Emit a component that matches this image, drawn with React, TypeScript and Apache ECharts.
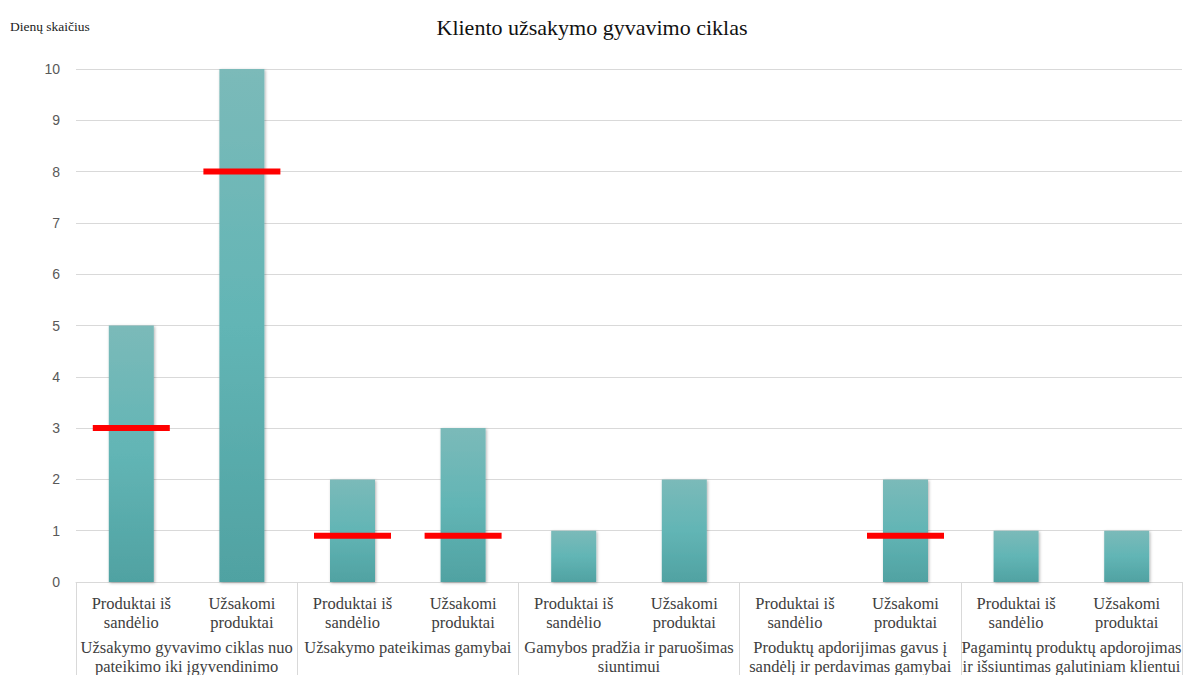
import React, { useEffect, useRef } from "react";
import * as echarts from "echarts";

const subCategories = [
  "Produktai iš\nsandėlio", "Užsakomi\nproduktai",
  "Produktai iš\nsandėlio", "Užsakomi\nproduktai",
  "Produktai iš\nsandėlio", "Užsakomi\nproduktai",
  "Produktai iš\nsandėlio", "Užsakomi\nproduktai",
  "Produktai iš\nsandėlio", "Užsakomi\nproduktai",
];
const groupCategories = [
  "Užsakymo gyvavimo ciklas nuo\npateikimo iki įgyvendinimo",
  "Užsakymo pateikimas gamybai",
  "Gamybos pradžia ir paruošimas\nsiuntimui",
  "Produktų apdorijimas gavus į\nsandėlį ir perdavimas gamybai",
  "Pagamintų produktų apdorojimas\nir išsiuntimas galutiniam klientui",
];
const dayValues = [5, 10, 2, 3, 1, 2, 0, 2, 1, 1];
const targetValues: (number | null)[] = [3, 8, 0.9, 0.9, null, null, null, 0.9, null, null];
const yTicks = { min: 0, max: 10, interval: 1 };

const serif = "'Liberation Serif', 'DejaVu Serif', serif";
const sans = "'Liberation Sans', Arial, sans-serif";

export default function App() {
  const ref = useRef<HTMLDivElement>(null);
  useEffect(() => {
    document.body.style.margin = "0";
    const chart = echarts.init(ref.current!, null, { renderer: "svg" });
    chart.setOption({
      animation: false,
      backgroundColor: "#ffffff",
      title: {
        text: "Kliento užsakymo gyvavimo ciklas",
        left: "center",
        top: 11,
        textStyle: { fontFamily: serif, fontSize: 22, fontWeight: "normal", color: "#111" },
      },
      graphic: [
        {
          type: "text",
          left: 10,
          top: 19,
          style: { text: "Dienų skaičius", fontFamily: serif, fontSize: 13.5, fill: "#222" },
        },
      ],
      grid: { left: 76, right: 2, top: 69, bottom: 93, outerBoundsMode: "none", containLabel: false },
      xAxis: [
        {
          type: "category",
          data: subCategories,
          position: "bottom",
          axisLine: { show: true, lineStyle: { color: "#d9d9d9" } },
          axisTick: { show: false },
          axisLabel: {
            interval: 0,
            margin: 12,
            fontFamily: serif,
            fontSize: 16.5,
            lineHeight: 19,
            color: "#404040",
          },
        },
        {
          type: "category",
          data: groupCategories,
          position: "bottom",
          axisLine: { show: false },
          axisTick: { show: true, length: 110, lineStyle: { color: "#d9d9d9" } },
          axisLabel: {
            interval: 0,
            margin: 56,
            fontFamily: serif,
            fontSize: 16.5,
            lineHeight: 19,
            color: "#404040",
          },
        },
      ],
      yAxis: {
        type: "value",
        min: yTicks.min,
        max: yTicks.max,
        interval: yTicks.interval,
        axisLine: { show: false },
        axisTick: { show: false },
        splitLine: { lineStyle: { color: "#d9d9d9" } },
        axisLabel: { margin: 16, fontFamily: sans, fontSize: 14, color: "#595959" },
      },
      series: [
        {
          type: "bar",
          xAxisIndex: 0,
          data: dayValues,
          barWidth: 45,
          itemStyle: {
            color: new echarts.graphic.LinearGradient(0, 0, 0, 1, [
              { offset: 0, color: "#7bbab9" },
              { offset: 0.5, color: "#62b5b5" },
              { offset: 1, color: "#50a2a2" },
            ]),
            shadowColor: "rgba(0,0,0,0.3)",
            shadowBlur: 3,
            shadowOffsetX: 1,
            shadowOffsetY: 1,
          },
        },
        {
          type: "scatter",
          xAxisIndex: 0,
          data: targetValues,
          symbol: "rect",
          symbolSize: [77, 6],
          symbolOffset: [0, 0],
          itemStyle: { color: "#ff0000", opacity: 1 },
          z: 5,
        },
      ],
    });
    return () => chart.dispose();
  }, []);
  return <div ref={ref} style={{ width: 1184, height: 675 }} />;
}
